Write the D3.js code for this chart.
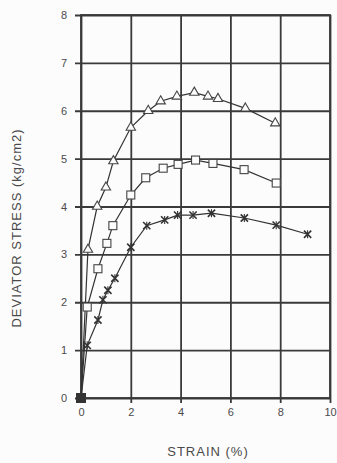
<!DOCTYPE html>
<html>
<head>
<meta charset="utf-8">
<script src="https://cdn.jsdelivr.net/npm/d3@7"></script>
<style>
  body { margin: 0; background: #fdfcfd; }
  svg { display: block; }
</style>
</head>
<body>
<div id="chart"></div>
<script>
// strain (%) and deviator stress (kg/cm2) for the three tests
let triStrain  = [0, 0.28, 0.65, 1.0, 1.3, 2.0, 2.7, 3.2, 3.85, 4.55, 5.1, 5.5, 6.6, 7.8];
let triStress  = [0, 3.1, 4.0, 4.4, 4.95, 5.65, 6.0, 6.2, 6.3, 6.38, 6.3, 6.25, 6.05, 5.74];
let sqStrain   = [0, 0.25, 0.68, 1.04, 1.28, 2.0, 2.6, 3.3, 3.9, 4.6, 5.3, 6.55, 7.84];
let sqStress   = [0, 1.9, 2.7, 3.23, 3.6, 4.24, 4.6, 4.8, 4.88, 4.97, 4.9, 4.77, 4.49];
let starStrain = [0, 0.25, 0.68, 0.88, 1.08, 1.36, 2.0, 2.64, 3.36, 3.88, 4.5, 5.24, 6.56, 7.84, 9.1];
let starStress = [0, 1.1, 1.63, 2.05, 2.25, 2.5, 3.15, 3.6, 3.72, 3.82, 3.82, 3.86, 3.76, 3.61, 3.42];
let xTicks = [0, 2, 4, 6, 8, 10];
let yTicks = [0, 1, 2, 3, 4, 5, 6, 7, 8];

let width = 337, height = 463;
let margin = {left: 81, right: 7, top: 15, bottom: 65};

let svg = d3.select("#chart").append("svg")
    .attr("width", width)
    .attr("height", height);

let x = d3.scaleLinear().domain([0, 10]).range([margin.left, width - margin.right]);
let y = d3.scaleLinear().domain([0, 8]).range([height - margin.bottom, margin.top]);

let gridColor = "#3a3a3a";
let textColor = "#4a4a4a";
let font = "Liberation Sans, Arial, sans-serif";

// grid lines, drawn as long axis ticks
svg.append("g")
    .attr("transform", `translate(0,${y(0)})`)
    .call(d3.axisBottom(x).tickValues(xTicks).tickSize(-(y(0) - y(8))).tickSizeOuter(0).tickPadding(10))
    .call(g => g.select(".domain").remove())
    .call(g => g.selectAll("line").attr("stroke", gridColor).attr("stroke-width", 1.8).attr("y1", 5))
    .call(g => g.selectAll("text").attr("fill", textColor).attr("font-size", 11).attr("font-family", font));

svg.append("g")
    .attr("transform", `translate(${x(0)},0)`)
    .call(d3.axisLeft(y).tickValues(yTicks).tickSize(-(x(10) - x(0))).tickSizeOuter(0).tickPadding(14))
    .call(g => g.select(".domain").remove())
    .call(g => g.selectAll("line").attr("stroke", gridColor).attr("stroke-width", 1.8).attr("x1", -6))
    .call(g => g.selectAll("text").attr("fill", textColor).attr("font-size", 11).attr("font-family", font));

// frame
svg.append("rect")
    .attr("x", x(0)).attr("y", y(8))
    .attr("width", x(10) - x(0)).attr("height", y(0) - y(8))
    .attr("fill", "none").attr("stroke", gridColor).attr("stroke-width", 1.8);

let line = d3.line()
    .x(d => x(d[0]))
    .y(d => y(d[1]));

let series = [
    {pts: triStrain.map((s, i) => [s, triStress[i]]), mark: "tri"},
    {pts: sqStrain.map((s, i) => [s, sqStress[i]]), mark: "sq"},
    {pts: starStrain.map((s, i) => [s, starStress[i]]), mark: "star"}
];

series.forEach(ser => {
    svg.append("path")
        .datum(ser.pts)
        .attr("d", line)
        .attr("fill", "none")
        .attr("stroke", "#333")
        .attr("stroke-width", 1.2);

    let g = svg.append("g");
    ser.pts.slice(1).forEach(p => {
        let cx = x(p[0]), cy = y(p[1]);
        if (ser.mark == "tri") {
            g.append("path")
                .attr("d", d3.symbol().type(d3.symbolTriangle).size(38)())
                .attr("transform", `translate(${cx},${cy})`)
                .attr("fill", "#fdfcfd").attr("stroke", "#444").attr("stroke-width", 1.1);
        } else if (ser.mark == "sq") {
            g.append("rect")
                .attr("x", cx - 4).attr("y", cy - 4)
                .attr("width", 8).attr("height", 8)
                .attr("fill", "#fdfcfd").attr("stroke", "#444").attr("stroke-width", 1.1);
        } else {
            g.append("path")
                .attr("d", d3.symbol().type(d3.symbolTimes).size(36)())
                .attr("transform", `translate(${cx},${cy})`)
                .attr("fill", "none").attr("stroke", "#333").attr("stroke-width", 1.6);
            g.append("line")
                .attr("x1", cx).attr("x2", cx).attr("y1", cy - 4).attr("y2", cy + 4)
                .attr("stroke", "#333").attr("stroke-width", 1.1);
        }
    });
});

// shared origin point
svg.append("rect")
    .attr("x", x(0) - 5).attr("y", y(0) - 5)
    .attr("width", 10).attr("height", 10)
    .attr("fill", "#333");

// axis titles
svg.append("text")
    .attr("x", 208).attr("y", 456)
    .attr("text-anchor", "middle")
    .attr("font-family", font)
    .attr("font-size", 13)
    .attr("letter-spacing", 1)
    .attr("fill", textColor)
    .text("STRAIN (%)");

svg.append("text")
    .attr("transform", "translate(21,228) rotate(-90)")
    .attr("text-anchor", "middle")
    .attr("font-family", font)
    .attr("font-size", 13)
    .attr("letter-spacing", 1)
    .attr("fill", textColor)
    .text("DEVIATOR STRESS (kg/cm2)");
</script>
</body>
</html>
